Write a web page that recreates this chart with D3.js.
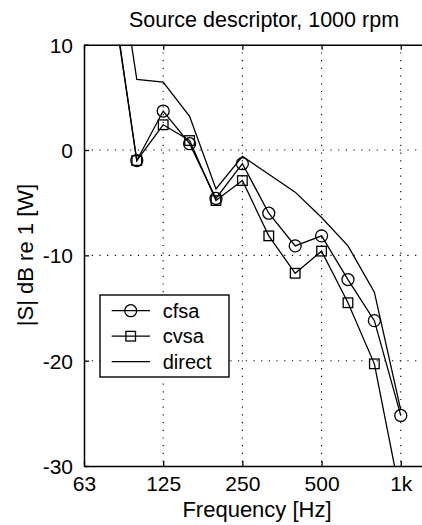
<!DOCTYPE html>
<html><head><meta charset="utf-8">
<script src="https://cdn.jsdelivr.net/npm/d3@7"></script>
<style>
html,body{margin:0;padding:0;background:#fff;overflow:hidden}
text{font-family:"Liberation Sans",Arial,sans-serif;fill:#000}
</style></head>
<body>
<script>
// 1/3-octave band centre frequencies [Hz]
const freqs  = [79.4, 99.2, 125, 157.5, 198.4, 250, 315, 396.9, 500, 630, 793.7, 1000];
const cfsa   = [15.6, -1.0, 3.7, 0.6, -4.6, -1.3, -6.0, -9.1, -8.15, -12.3, -16.2, -25.2];
const cvsa   = [15.3, -1.0, 2.4, 0.9, -4.8, -2.9, -8.15, -11.7, -9.6, -14.5, -20.3, -33.0];
const direct = [22.7, 6.7, 6.45, 3.2, -3.7, -0.6, -2.3, -4.0, -6.4, -9.1, -13.5, -24.7];
const xTicks = [62.5, 125, 250, 500, 1000];
const xTickLabels = ["63", "125", "250", "500", "1k"];
const yTicks = [10, 0, -10, -20, -30];
const seriesNames = ["cfsa", "cvsa", "direct"];

const W = 422, H = 525;
const L = 84, T = 44.7, R = 444, B = 466;

const svg = d3.select("body").append("svg").attr("width", W).attr("height", H);
const x = d3.scaleLog().domain([62.5, 1460]).range([L, R]);
const y = d3.scaleLinear().domain([-30, 10]).range([B, T]);

svg.append("defs").append("clipPath").attr("id", "clip")
  .append("rect").attr("x", L).attr("y", T).attr("width", R - L).attr("height", B - T);

// grid
const grid = svg.append("g").attr("stroke", "#000").attr("stroke-width", 1.1)
  .attr("stroke-dasharray", "1.2,6.5");
grid.selectAll(".gx").data(xTicks.slice(1)).enter().append("line")
  .attr("x1", d => x(d)).attr("x2", d => x(d)).attr("y1", T).attr("y2", B);
grid.selectAll(".gy").data(yTicks.slice(1, -1)).enter().append("line")
  .attr("y1", d => y(d)).attr("y2", d => y(d)).attr("x1", L).attr("x2", R);

// axes
const fmtX = (d) => xTickLabels[xTicks.indexOf(d)];
const axB = svg.append("g").attr("transform", `translate(0,${B})`)
  .call(d3.axisBottom(x).tickValues(xTicks).tickFormat(fmtX).tickSizeInner(-5).tickSizeOuter(0).tickPadding(10));
const axT = svg.append("g").attr("transform", `translate(0,${T})`)
  .call(d3.axisTop(x).tickValues(xTicks).tickFormat("").tickSizeInner(-5).tickSizeOuter(0));
const axL = svg.append("g").attr("transform", `translate(${L},0)`)
  .call(d3.axisLeft(y).tickValues(yTicks).tickFormat(d => d === 0 ? "0" : String(d).replace("\u2212", "-")).tickSizeInner(-5).tickSizeOuter(0).tickPadding(11));
[axB, axT, axL].forEach(a => {
  a.select(".domain").attr("stroke", "#000").attr("stroke-width", 1.5);
  a.selectAll(".tick line").attr("stroke", "#000").attr("stroke-width", 1.3);
  a.selectAll("text").attr("font-size", 21).attr("font-family", "Liberation Sans, Arial, sans-serif").attr("fill", "#000");
});
axL.selectAll("text").attr("dy", "0.36em");
axB.selectAll("text").attr("dy", "0.72em");

// lines
const plot = svg.append("g").attr("clip-path", "url(#clip)");
const pts = (vals) => freqs.map((f, i) => [f, vals[i]]);
const line = d3.line().x(d => x(d[0])).y(d => y(d[1]));
[cfsa, cvsa, direct].forEach(vals => {
  plot.append("path").datum(pts(vals)).attr("d", line)
    .attr("fill", "none").attr("stroke", "#000").attr("stroke-width", 1.3);
});
plot.selectAll(".mc").data(pts(cfsa)).enter().append("circle")
  .attr("cx", d => x(d[0])).attr("cy", d => y(d[1])).attr("r", 6)
  .attr("fill", "none").attr("stroke", "#000").attr("stroke-width", 1.3);
plot.selectAll(".ms").data(pts(cvsa)).enter().append("rect")
  .attr("x", d => x(d[0]) - 4.8).attr("y", d => y(d[1]) - 4.8).attr("width", 9.6).attr("height", 9.6)
  .attr("fill", "none").attr("stroke", "#000").attr("stroke-width", 1.3);

// legend
const lg = svg.append("g");
lg.append("rect").attr("x", 100).attr("y", 295).attr("width", 129).attr("height", 82)
  .attr("fill", "#fff").attr("stroke", "#000").attr("stroke-width", 1.4);
seriesNames.forEach((name, i) => {
  const yy = 310.7 + i * 25.5;
  lg.append("line").attr("x1", 111.7).attr("x2", 150).attr("y1", yy).attr("y2", yy)
    .attr("stroke", "#000").attr("stroke-width", 1.3);
  if (i === 0) lg.append("circle").attr("cx", 130.7).attr("cy", yy).attr("r", 6)
    .attr("fill", "none").attr("stroke", "#000").attr("stroke-width", 1.3);
  if (i === 1) lg.append("rect").attr("x", 130.7 - 4.8).attr("y", yy - 4.8).attr("width", 9.6).attr("height", 9.6)
    .attr("fill", "none").attr("stroke", "#000").attr("stroke-width", 1.3);
  lg.append("text").attr("x", 162.7).attr("y", yy).attr("dy", "0.36em")
    .attr("font-size", 20).text(name);
});

// labels
svg.append("text").attr("x", 264).attr("y", 27).attr("text-anchor", "middle")
  .attr("font-size", 21.5).text("Source descriptor, 1000 rpm");
svg.append("text").attr("x", 257).attr("y", 516.5).attr("text-anchor", "middle")
  .attr("font-size", 22).text("Frequency [Hz]");
svg.append("text").attr("transform", "translate(32.5,255) rotate(-90)").attr("text-anchor", "middle")
  .attr("font-size", 22).text("|S| dB re 1 [W]");
</script>
</body></html>
